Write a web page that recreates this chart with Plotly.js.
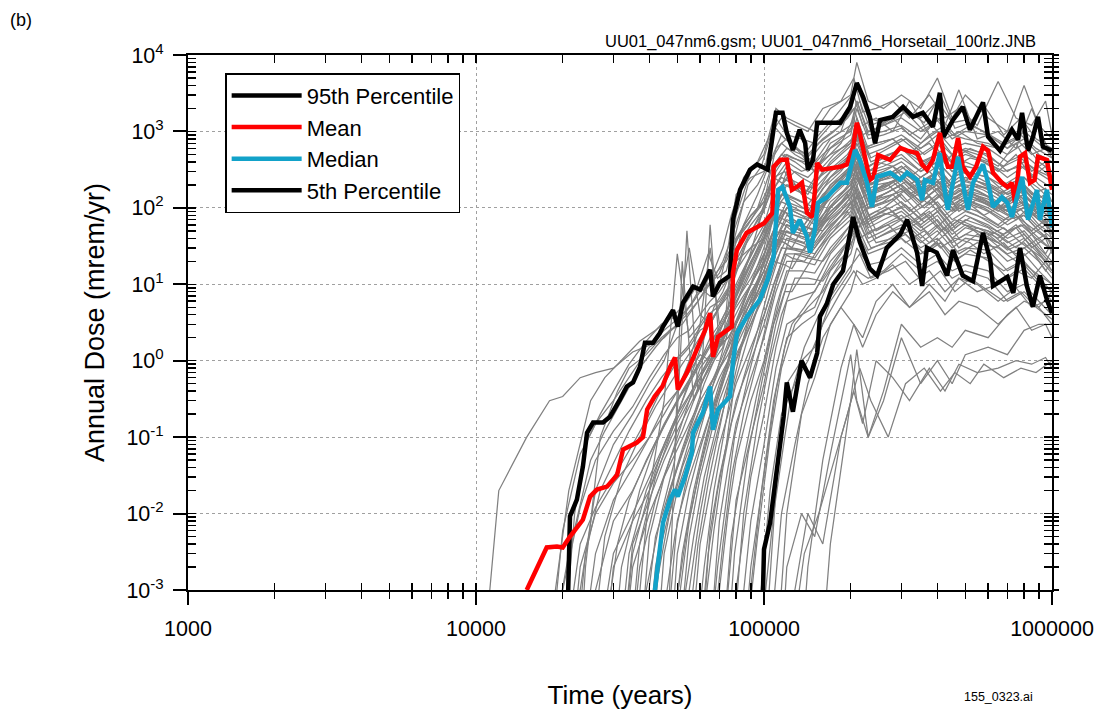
<!DOCTYPE html>
<html><head><meta charset="utf-8">
<script src="https://cdn.plot.ly/plotly-3.0.1.min.js"></script>
<style>html,body{margin:0;padding:0;background:#fff}#chart{width:1097px;height:715px}</style>
</head><body><div id="chart"></div>
<script>
// ---------- data ----------
const grayTime = [10000,12000,15000,18000,20000,23000,26000,30000,35000,40000,45000,50000,55000,60000,65000,70000,75000,80000,90000,100000,110000,120000,135000,150000,170000,200000,210000,230000,260000,300000,350000,400000,450000,500000,600000,700000,800000,900000,1000000];

const g01 = [1e-5,0.02,0.1,0.3,0.34,0.6,0.7,0.8,1.3,1.6,2.5,3.5,5,8,10,14,25,40,70,120,250,400,300,350,500,700,1500,600,700,900,600,900,500,600,500,300,400,300,250];
const g02 = [1e-5,1e-5,1e-5,1e-4,0.006,0.06,0.15,0.3,0.7,1.5,2,3,5,9,7,10,30,150,250,300,1500,900,800,700,1200,1800,4000,1500,1300,2000,1500,2500,1300,1400,900,600,1000,700,500];
const g03 = [1e-5,1e-5,1e-5,1e-5,0.001,0.012,0.05,0.12,0.25,0.6,1.2,2,2.5,4,3,5,8,40,80,120,600,800,500,300,700,1000,2500,900,1000,1200,800,1500,900,800,700,500,700,400,300];
const g04 = [1e-5,1e-5,1e-5,1e-5,1e-4,0.004,0.012,0.03,0.08,0.2,0.5,1,1.5,2.5,3,5,7,15,30,60,200,350,250,200,400,700,1200,500,600,800,500,700,400,500,400,250,350,200,150];
const g05 = [1e-5,1e-5,1e-5,1e-5,1e-5,0.002,0.01,0.025,0.05,0.1,0.25,0.4,0.7,1.2,1,2,3,8,20,40,150,250,200,180,300,500,900,350,450,600,400,500,300,350,300,200,250,150,100];
const g06 = [1e-5,1e-5,1e-5,1e-5,1e-5,1e-4,0.003,0.015,0.04,0.1,0.2,0.4,1,3,30,3,5,10,25,50,120,300,150,120,250,400,800,300,400,500,300,400,250,300,250,180,200,120,90];
const g07 = [1e-5,1e-5,1e-5,1e-5,1e-5,1e-5,0.001,0.008,0.02,0.06,0.15,0.3,0.5,0.9,1.5,2.5,4,6,12,25,60,120,100,90,200,300,600,250,300,400,250,350,200,250,200,150,180,100,70];
const g08 = [1e-5,1e-5,1e-5,1e-5,1e-5,1e-5,1e-4,0.003,0.01,0.03,0.08,0.2,0.35,0.6,1,1.8,3,5,10,20,50,100,80,70,150,250,400,200,250,300,200,300,180,200,180,120,150,90,60];
const g09 = [1e-5,1e-5,1e-5,1e-5,1e-5,1e-5,1e-5,0.002,0.008,0.02,0.06,0.15,0.3,0.8,1.2,1.6,2,3,7,15,40,80,60,50,120,200,350,150,200,250,150,200,120,150,120,90,100,70,50];
const g10 = [1e-5,1e-5,1e-5,1e-5,1e-5,1e-5,1e-5,1e-5,0.004,0.015,0.05,0.12,0.25,0.5,0.9,1.5,2.5,20,30,40,100,150,120,100,200,350,700,300,350,450,300,400,250,300,250,150,200,130,90];
const g11 = [1e-5,1e-5,1e-5,1e-5,1e-5,1e-5,1e-5,1e-5,0.002,0.01,0.03,0.07,0.15,0.3,0.5,0.8,1.2,2,5,10,30,60,50,45,90,150,300,100,150,200,120,180,100,130,100,70,80,50,35];
const g12 = [1e-5,1e-5,1e-5,1e-5,1e-5,1e-5,1e-5,1e-5,1e-4,0.02,0.3,25,2,3,5,6,9,20,50,90,300,500,400,300,600,900,2000,800,900,1100,700,1000,600,700,600,400,500,350,250];
const g13 = [1e-5,1e-5,1e-5,1e-5,1e-5,1e-5,1e-5,1e-5,1e-5,0.005,0.03,0.1,0.3,0.6,1,1.5,2.5,4,10,20,60,100,80,60,150,250,500,200,250,350,200,300,180,220,180,120,150,100,70];
const g14 = [1e-5,1e-5,1e-5,1e-5,1e-5,1e-5,1e-5,1e-5,1e-5,1e-4,0.01,0.04,0.12,0.3,60,1.5,2,3,8,15,40,70,60,50,100,180,350,150,180,250,150,220,130,160,130,90,110,70,50];
const g15 = [1e-5,1e-5,1e-5,1e-5,1e-5,1e-5,1e-5,1e-5,1e-5,1e-5,0.003,0.02,0.06,0.15,0.3,0.6,1,2,5,12,30,60,50,40,80,150,280,120,150,200,120,180,110,140,110,80,100,60,45];
const g16 = [1e-5,1e-5,1e-5,1e-5,1e-5,1e-5,1e-5,1e-5,1e-5,1e-5,1e-4,0.008,0.03,0.08,0.2,0.4,0.8,1.5,4,8,25,50,40,35,70,120,250,100,120,180,100,150,90,120,90,60,80,50,35];
const g17 = [1e-5,1e-5,1e-5,1e-5,1e-5,1e-5,1e-5,1e-5,1e-5,1e-5,1e-5,0.003,0.02,0.07,0.2,0.5,1,2.5,6,15,50,100,90,80,150,250,500,200,250,350,220,300,200,250,200,130,170,110,80];
const g18 = [1e-5,1e-5,1e-5,1e-5,1e-5,1e-5,1e-5,1e-5,1e-5,1e-5,1e-5,1e-4,0.005,0.03,0.1,0.3,0.6,1.2,3,7,20,40,35,30,60,100,200,80,100,150,80,120,70,90,70,50,60,40,28];
const g19 = [1e-5,1e-5,1e-5,1e-5,1e-5,1e-5,1e-5,1e-5,1e-5,1e-5,1e-5,1e-5,0.001,0.01,0.05,0.15,0.4,1,3,8,25,60,50,45,100,180,400,150,200,250,160,220,130,170,140,90,120,80,55];
const g20 = [1e-5,1e-5,1e-5,1e-5,1e-5,1e-5,1e-5,1e-5,1e-5,1e-5,1e-5,1e-5,1e-4,0.004,0.02,0.08,0.2,0.5,1.5,4,12,30,28,25,50,90,180,70,90,120,70,100,60,80,60,40,50,30,20];
const g21 = [1e-5,1e-5,1e-5,1e-5,1e-5,1e-5,1e-5,1e-5,1e-5,1e-5,1e-5,1e-5,1e-5,1e-4,0.006,0.03,0.1,0.3,1,3,10,25,25,22,45,80,150,60,80,100,60,90,50,70,55,35,45,28,18];
const g22 = [1e-5,1e-5,1e-5,1e-5,1e-5,1e-5,1e-5,1e-5,1e-5,1e-5,1e-5,1e-5,1e-5,1e-5,2e-4,0.008,0.04,0.15,0.6,2,8,20,20,18,40,70,140,55,70,90,55,80,45,60,50,30,40,25,15];
const g23 = [1e-5,1e-5,1e-5,1e-5,1e-5,1e-5,1e-5,1e-5,1e-5,1e-5,1e-5,1e-5,1e-5,1e-5,1e-5,0.001,0.01,0.05,0.3,1,5,15,15,14,30,60,120,45,60,80,50,70,40,55,45,28,35,22,14];
const g24 = [1e-5,1e-5,1e-5,1e-5,1e-5,1e-5,1e-5,1e-5,1e-5,1e-5,1e-5,1e-5,1e-5,1e-5,1e-5,1e-5,0.001,0.015,0.1,0.5,3,10,10,10,25,50,100,40,50,70,40,60,35,45,40,25,30,20,12];
const g25 = [1e-5,1e-5,1e-5,1e-5,1e-5,1e-5,1e-5,1e-5,1e-5,1e-5,1e-5,1e-5,1e-5,1e-5,1e-5,1e-5,1e-5,0.001,0.03,0.2,1.5,6,7,8,20,40,80,35,45,60,35,50,30,40,35,20,25,15,10];
const g26 = [1e-5,1e-5,1e-5,1e-5,1e-5,1e-5,1e-5,1e-5,1e-5,1e-5,1e-5,1e-5,1e-5,1e-5,1e-5,1e-5,1e-5,1e-4,0.008,0.08,0.8,3,4,5,15,30,60,28,35,50,30,40,25,30,28,15,20,12,8];
const g27 = [1e-5,1e-5,1e-5,1e-5,1e-5,1e-5,1e-5,1e-5,1e-5,1e-5,1e-5,1e-5,1e-5,1e-5,1e-5,1e-5,1e-5,1e-5,0.002,0.03,0.4,2,3,4,12,25,50,25,30,40,25,35,20,25,22,12,16,10,6];
const g28 = [1e-5,1e-5,1e-5,1e-5,1e-5,1e-5,1e-5,1e-5,1e-5,1e-5,1e-5,1e-5,1e-5,1e-5,1e-5,1e-5,1e-5,1e-5,1e-5,1e-4,0.02,0.5,1,1.5,6,15,30,18,20,30,18,25,15,18,15,8,10,6,4];
const g29 = [1e-5,1e-5,1e-5,1e-5,1e-5,1e-5,1e-5,1e-5,1e-5,1e-5,1e-5,1e-5,1e-5,1e-5,1e-5,1e-5,1e-5,1e-5,1e-5,1e-5,1e-4,0.01,0.2,0.6,3,8,15,12,15,25,15,20,12,15,12,6,8,5,3];
const g30 = [1e-5,1e-5,1e-5,1e-5,1e-5,1e-5,1e-5,1e-5,1e-5,1e-5,1e-5,1e-5,1e-5,1e-5,1e-5,1e-5,1e-5,1e-5,1e-5,1e-5,1e-5,0.002,0.01,0.005,0.06,1.2,0.3,0.1,0.3,2,0.5,1,0.5,1.2,1.5,1.2,2.5,3,3];
const g31 = [1e-5,1e-5,1e-5,1e-5,1e-5,1e-5,1e-5,1e-5,1e-5,1e-5,1e-5,1e-5,1e-5,1e-5,1e-5,1e-5,1e-5,1e-5,1e-5,1e-5,1e-5,1e-5,1e-5,1e-5,0.004,0.3,1.4,0.1,0.4,3,1.5,2,1.5,2.5,2,4,6,5,8];
const g32 = [1e-5,1e-5,1e-5,1e-5,1e-5,0.001,0.02,0.08,0.2,0.5,1,3,30,4,6,8,12,80,300,500,2000,1500,1200,1000,2000,3000,8000,2500,2000,3000,2000,5000,1500,3000,1500,1000,4000,1200,800];
const g33 = [1e-5,1e-5,1e-5,1e-5,1e-5,1e-5,1e-5,1e-5,0.003,0.02,0.08,0.2,0.5,1,2,3,5,30,60,100,400,600,500,400,800,1200,2500,1000,1200,1500,1000,1400,800,1000,900,600,800,500,400];
const g34 = [1e-5,1e-5,1e-5,1e-5,1e-5,1e-5,1e-5,1e-5,1e-5,1e-5,1e-5,0.0005,0.008,0.04,0.15,0.4,1,3,10,30,100,200,180,150,300,450,900,350,450,600,350,500,300,400,300,200,250,180,120];
const realizationsA = [g01,g02,g03,g04,g05,g06,g07,g08,g09,g10,g11,g12,g13,g14,g15,g16,g17,g18,g19,g20,g21,g22,g23,g24,g25,g26,g27,g28,g29,g30,g31,g32,g33,g34];

const grayTime2 = [12000,16000,21000,25000,28000,32000,37000,42000,47000,52000,57000,62000,67000,72000,77000,85000,95000,105000,115000,128000,142000,160000,185000,205000,220000,245000,280000,320000,375000,425000,475000,550000,650000,750000,850000,950000,1000000];
const h01 = [1e-5,1e-5,0.003,0.05,0.12,0.3,0.8,1.5,2.5,3,5,8,12,20,40,120,200,400,900,600,500,800,1200,2000,900,1100,1500,900,1300,800,1000,700,600,800,500,600,450];
const h02 = [1e-5,1e-5,1e-5,1e-4,0.005,0.03,0.1,0.25,0.5,0.9,1.5,2.5,4,6,10,30,60,150,250,200,150,300,500,700,300,400,350,250,400,200,300,250,180,250,150,180,120];
const h03 = [1e-5,1e-5,1e-5,1e-5,1e-5,0.002,0.02,0.08,0.2,0.4,0.7,1.2,2,3,5,15,35,80,150,120,90,180,300,500,200,250,300,180,250,150,200,170,120,160,100,120,80];
const h04 = [1e-5,1e-5,1e-5,1e-5,1e-5,1e-5,0.004,0.03,0.1,0.3,0.8,2,5,8,15,60,150,400,700,500,400,700,1000,3000,1200,1500,1000,2500,900,1200,3500,800,1000,600,2000,700,500];
const h05 = [1e-5,1e-5,1e-5,1e-5,1e-5,1e-5,1e-4,0.005,0.02,0.06,0.15,0.3,0.6,1,1.8,4,8,20,40,35,30,60,100,150,70,90,80,60,90,50,70,55,40,60,35,45,30];
const h06 = [1e-5,1e-5,1e-5,1e-5,1e-5,1e-5,1e-5,0.002,0.02,0.07,0.2,0.5,1,2,4,10,25,60,120,100,80,150,250,400,180,220,250,150,220,130,180,140,100,150,90,110,70];
const h07 = [1e-5,1e-5,1e-5,1e-5,1e-5,1e-5,1e-5,1e-5,0.001,20,0.3,0.8,1.5,3,5,12,30,70,150,130,110,200,350,600,250,300,350,200,300,180,250,200,150,200,120,150,100];
const h08 = [1e-5,1e-5,1e-5,1e-5,1e-5,1e-5,1e-5,1e-5,1e-4,0.003,0.02,0.08,0.25,0.6,1.2,3,8,20,50,45,40,80,150,250,100,130,150,90,140,80,110,90,60,90,50,70,45];
const h09 = [1e-5,1e-5,1e-5,1e-5,1e-5,1e-5,1e-5,1e-5,1e-5,0.0005,0.005,0.03,0.1,0.3,0.7,2,6,20,50,45,40,70,120,200,90,110,130,80,120,70,100,80,55,80,45,60,40];
const h10 = [1e-5,1e-5,1e-5,1e-5,1e-5,1e-5,1e-5,1e-5,1e-5,1e-5,1e-4,0.002,0.02,0.1,0.4,2,10,50,200,300,250,400,700,1500,600,700,800,500,900,400,600,500,350,700,300,400,250];
const h11 = [1e-5,1e-5,1e-5,1e-5,1e-5,1e-5,1e-5,1e-5,1e-5,1e-5,1e-5,5e-4,0.006,0.04,0.15,0.6,2.5,10,30,28,25,45,80,130,60,75,90,55,80,45,65,50,35,55,30,40,25];
const h12 = [1e-5,1e-5,1e-5,1e-5,1e-5,1e-5,1e-5,1e-5,1e-5,1e-5,1e-5,1e-5,3e-4,0.004,0.03,0.2,1,5,20,60,55,50,90,160,280,120,150,180,110,160,90,130,100,70,110,60,80];
const h13 = [1e-5,1e-5,1e-5,1e-5,1e-5,1e-5,1e-5,1e-5,1e-5,1e-5,1e-5,1e-5,1e-5,2e-4,0.005,0.05,0.4,2,8,25,22,20,40,70,120,50,65,80,45,70,40,55,45,30,45,25,35];
const h14 = [1e-5,1e-5,1e-5,1e-5,1e-5,1e-5,1e-5,1e-5,1e-5,1e-5,1e-5,1e-5,1e-5,1e-5,1e-4,0.01,0.15,1,4,12,12,11,25,50,90,40,50,60,35,55,30,45,35,25,35,20,28];
const h15 = [1e-5,1e-5,1e-5,1e-5,1e-5,1e-5,1e-5,1e-5,1e-5,1e-5,1e-5,1e-5,1e-5,1e-5,1e-5,1e-4,0.005,0.1,0.8,3,5,8,20,40,70,35,40,50,30,45,25,35,30,20,28,15,20];
const h16 = [1e-5,1e-5,1e-5,1e-5,1e-5,1e-5,1e-5,1e-5,1e-5,1e-5,1e-5,1e-5,1e-5,1e-5,1e-5,1e-5,3e-4,0.02,0.2,0.5,1,3,8,15,10,12,18,10,15,8,12,10,6,9,5,6,4];
const h17 = [1e-5,1e-5,1e-5,1e-5,1e-5,1e-5,1e-5,1e-5,1e-5,1e-5,1e-5,1e-5,1e-5,1e-5,1e-5,1e-5,1e-5,2e-4,0.01,0.08,0.5,2,5,3,2,6,10,5,8,4,6,5,3,5,2.5,3,2];
const h18 = [1e-5,1e-5,1e-5,1e-5,1e-5,1e-5,1e-5,1e-5,1e-5,1e-5,1e-5,1e-5,1e-5,1e-5,1e-5,1e-5,1e-5,1e-5,1e-5,0.001,0.01,0.004,0.1,0.4,0.15,1,0.6,0.3,0.8,0.4,0.9,0.7,0.8,1,0.9,1.1,0.8];
const h19 = [1e-5,1e-5,1e-5,1e-5,1e-5,1e-5,1e-5,1e-5,1e-5,1e-5,1e-5,1e-5,1e-5,1e-5,1e-5,1e-5,1e-5,1e-5,1e-5,1e-5,0.002,0.05,0.8,3,1.5,4,8,5,10,6,12,8,10,15,12,20,15];
const h20 = [1e-5,1e-5,0.02,0.3,0.6,1,1.8,2.5,3.5,4,6,10,15,30,80,250,400,900,1500,1200,1000,2000,2500,5000,1800,2000,2500,1500,3000,1500,2000,1200,4500,1500,1200,2500,900];
const h21 = [1e-5,1e-5,1e-5,1e-5,1e-5,1e-5,0.002,0.015,0.05,0.12,0.3,0.6,1,1.5,25,60,100,300,500,400,300,500,800,1200,600,700,800,500,700,400,600,450,300,500,250,350,200];
const h22 = [1e-5,1e-5,1e-5,1e-5,1e-5,1e-5,1e-5,0.001,0.01,0.04,0.1,0.25,0.5,1,2,6,15,40,90,80,70,130,220,350,160,200,220,140,200,120,170,130,90,140,80,100,60];
const realizationsB = [h01,h02,h03,h04,h05,h06,h07,h08,h09,h10,h11,h12,h13,h14,h15,h16,h17,h18,h19,h20,h21,h22];

const grayTime3 = [14000,19000,22000,24000,27000,31000,34000,39000,44000,49000,54000,59000,64000,69000,74000,79000,88000,98000,108000,118000,125000,138000,155000,175000,195000,215000,235000,270000,310000,360000,410000,460000,520000,580000,680000,780000,880000,1000000];
const k01 = [1e-5,1e-5,0.01,0.08,0.2,0.5,0.9,1.8,3,4,6,10,25,12,15,40,200,350,1200,800,700,500,900,1500,2500,4000,1200,1500,2000,1300,3000,1100,1300,2200,900,1500,800,600];
const k02 = [1e-5,1e-5,1e-4,0.003,0.02,0.06,0.12,0.3,0.6,1,1.5,2.5,4,5,8,12,40,90,250,300,200,150,300,500,700,1000,450,600,800,500,700,450,600,500,350,450,300,220];
const k03 = [1e-5,1e-5,1e-5,1e-5,1e-4,0.004,0.015,0.05,0.12,0.25,0.5,0.9,1.5,2.5,4,8,20,45,100,90,70,60,120,200,300,500,200,250,350,200,300,180,250,200,150,200,120,90];
const k04 = [1e-5,1e-5,1e-5,1e-5,1e-5,1e-4,0.003,0.02,0.06,0.15,0.3,0.6,1,1.8,3,6,15,35,80,70,60,50,100,170,250,400,170,200,280,170,240,150,200,170,120,160,100,75];
const k05 = [1e-5,1e-5,1e-5,1e-5,1e-5,1e-5,1e-5,0.001,0.01,0.05,50,0.4,0.8,1.5,2.5,5,12,30,70,60,50,45,90,150,220,350,150,180,250,150,220,130,180,150,100,140,90,65];
const k06 = [1e-5,1e-5,1e-5,1e-5,1e-5,1e-5,1e-5,1e-4,0.004,0.02,0.07,0.2,0.4,0.8,1.5,3,8,20,50,45,40,35,70,120,180,300,130,160,220,130,190,110,160,130,90,120,80,55];
const k07 = [1e-5,1e-5,1e-5,1e-5,1e-5,1e-5,1e-5,1e-5,3e-4,0.005,0.03,0.1,0.3,0.8,2,6,20,80,300,500,450,400,700,1000,1500,2500,1000,1300,1800,1000,1500,900,1200,1000,700,900,600,450];
const k08 = [1e-5,1e-5,1e-5,1e-5,1e-5,1e-5,1e-5,1e-5,1e-5,5e-4,0.006,0.03,0.1,0.3,0.7,2,6,15,40,35,30,28,55,90,140,250,100,120,170,100,150,90,120,100,70,95,60,40];
const k09 = [1e-5,1e-5,1e-5,1e-5,1e-5,1e-5,1e-5,1e-5,1e-5,1e-5,2e-4,0.004,0.025,0.1,0.35,1.5,5,15,40,35,30,60,110,180,300,130,160,200,120,170,100,140,110,80,110,70,50,35];
const k10 = [1e-5,1e-5,1e-5,1e-5,1e-5,1e-5,1e-5,1e-5,1e-5,1e-5,1e-5,1e-4,0.003,0.02,0.08,0.5,2,7,20,18,16,30,55,90,150,60,75,100,60,85,50,70,55,40,55,35,25,18];
const k11 = [1e-5,1e-5,1e-5,1e-5,1e-5,1e-5,1e-5,1e-5,1e-5,1e-5,1e-5,1e-5,1e-4,0.002,0.015,0.1,0.6,3,10,25,22,20,35,60,100,160,70,85,110,65,95,55,75,60,45,60,40,28];
const k12 = [1e-5,1e-5,1e-5,1e-5,1e-5,1e-5,1e-5,1e-5,1e-5,1e-5,1e-5,1e-5,1e-5,1e-5,1e-4,0.003,0.06,0.5,3,8,8,15,30,50,90,40,50,60,35,50,30,40,35,25,35,20,14,10];
const k13 = [1e-5,1e-5,1e-5,1e-5,1e-5,1e-5,1e-5,1e-5,1e-5,1e-5,1e-5,1e-5,1e-5,1e-5,1e-5,1e-5,5e-4,0.02,0.3,1.5,3,5,10,20,35,60,30,35,45,25,35,20,28,22,15,20,12,8];
const k14 = [1e-5,1e-5,1e-5,1e-5,1e-5,1e-5,1e-5,1e-5,1e-5,1e-5,1e-5,1e-5,1e-5,1e-5,1e-5,1e-5,1e-5,3e-4,0.01,0.1,0.4,1.5,4,8,15,25,12,15,20,10,15,8,12,9,6,8,5,3.5];
const k15 = [1e-5,1e-5,1e-5,1e-5,1e-5,1e-5,1e-5,1e-5,1e-5,1e-5,1e-5,1e-5,1e-5,1e-5,1e-5,1e-5,1e-5,1e-5,1e-5,1e-5,2e-4,0.003,0.01,0.05,0.2,0.8,0.3,0.1,0.5,0.8,0.4,0.7,0.5,0.9,0.6,0.8,0.7,1];
const k16 = [1e-5,1e-5,1e-5,0.002,0.1,0.4,0.8,1.2,2,2.8,4,6,10,15,20,35,60,120,250,200,180,150,250,350,500,900,400,500,600,400,550,350,450,400,300,350,250,180];
const realizationsC = [k01,k02,k03,k04,k05,k06,k07,k08,k09,k10,k11,k12,k13,k14,k15,k16];

const p95Time = [20900,21200,22400,23500,24300,25500,27600,29200,31600,33400,35100,37100,38600,41200,43500,44600,48300,50200,52300,56700,60000,65000,66500,70300,76200,78000,82600,89400,94600,103000,110000,116000,120000,126000,133000,139000,142000,148000,153000,165000,184000,199000,210000,221000,233000,243000,253000,280000,304000,329000,356000,386000,408000,420000,453000,490000,519000,576000,600000,660000,726000,762000,787000,826000,859000,894000,930000,1000000];
const p95Dose = [0.001,0.0092,0.0152,0.041,0.114,0.155,0.155,0.185,0.31,0.46,0.52,0.83,1.72,1.72,2.3,2.8,4.6,2.8,5.7,9.3,8.5,15.5,6.9,10.5,13,70,172,316,370,316,1750,1750,960,570,1050,700,316,425,1300,1300,1300,2090,4300,2820,1550,700,1410,1550,2090,1550,1750,1150,3200,850,1410,2090,1050,2400,850,560,1050,780,1750,560,850,1550,630,560];

const meanTime = [15000,16300,17600,19100,20000,21200,23500,24900,26300,28500,30900,32400,36200,38000,39300,41700,44400,47200,49100,50200,54000,62400,65000,66500,69200,77400,78000,80500,87000,100000,107000,108000,114000,120000,125000,130000,135500,141000,147000,150000,153000,159000,184000,194000,204000,210000,215000,224000,233000,240000,249000,274000,297000,314000,340000,354000,368000,386000,408000,420000,435000,450000,472000,490000,519000,545000,576000,600000,624000,670000,700000,726000,744000,774000,806000,839000,870000,894000,960000,1000000];
const meanDose = [0.001,0.002,0.0036,0.0037,0.0036,0.005,0.0083,0.0167,0.0206,0.0225,0.032,0.069,0.085,0.1,0.23,0.34,0.46,0.83,1.1,0.42,0.7,2.5,4.2,1.12,2.05,2.8,14,28,47,63,86,345,425,425,172,188,213,86,76,157,387,316,345,370,630,1300,960,465,232,254,490,425,610,560,520,370,316,425,960,520,345,345,820,345,255,345,630,560,288,213,187,213,116,465,520,213,232,465,425,172];

const medianTime = [41800,42900,44600,47200,49100,50200,53200,56200,56700,61400,65000,66500,69200,76200,78000,80600,87300,96800,103000,108000,110000,112000,116000,123000,126000,133000,141000,144500,150000,154000,165500,174000,184000,194000,207000,215000,228000,237000,247000,274000,297000,314000,340000,354000,362000,386000,408000,420000,435000,450000,472000,490000,511000,532000,576000,600000,624000,670000,700000,726000,756000,787000,826000,852000,887000,908000,960000,1000000];
const medianDose = [0.001,0.0025,0.0076,0.0152,0.0206,0.0167,0.0305,0.063,0.114,0.21,0.46,0.125,0.23,0.34,0.94,2.3,3.8,6.3,11.5,23,70,172,188,103,47,70,42,26,51,116,138,172,213,213,570,425,213,103,255,288,232,288,232,126,232,213,520,213,94,187,465,213,94,213,370,213,103,138,116,76,138,255,70,103,172,70,172,56];

const p05Time = [99200,100000,105000,110000,114000,117000,120000,126000,135000,144500,153000,156500,165000,174000,188000,194000,204000,215000,233000,247000,267000,297000,314000,340000,354000,368000,398000,432000,453000,490000,532000,576000,610000,624000,700000,734000,774000,818000,858000,908000,960000,1000000];
const p05Dose = [0.001,0.0034,0.0076,0.0305,0.1,0.185,0.52,0.215,1.0,0.6,1.26,3.8,5.5,10,15,30,76,36,16,13,30,45,70,26,9.5,30,26,13,28,13,11,47,21,9.5,12.5,7.7,30,9.5,5.1,13,6.3,4.2];

const xTickVals = [1000,10000,100000,1000000];
const xTickText = ['1000','10000','100000','1000000'];
const yTickVals = [0.001,0.01,0.1,1,10,100,1000,10000];
const yTickText = ['10<sup>-3</sup>','10<sup>-2</sup>','10<sup>-1</sup>','10<sup>0</sup>','10<sup>1</sup>','10<sup>2</sup>','10<sup>3</sup>','10<sup>4</sup>'];
const seriesNames = ['95th Percentile','Mean','Median','5th Percentile'];

// ---------- tick positions (axis decoration only) ----------
function decadeTicks(lo, hi){const out=[];for(let e=lo;e<hi;e++){for(let m=1;m<10;m++){out.push(m*Math.pow(10,e));}}out.push(Math.pow(10,hi));return out;}
const xAll = decadeTicks(3,6);
const yAll = decadeTicks(-3,4);

const FONT = 'Liberation Sans, Arial, Helvetica, sans-serif';
const GRAY = {color:'#808080', width:1.25};
const traces = [];
realizationsA.forEach(r => traces.push({x:grayTime,y:r,type:'scatter',mode:'lines',line:GRAY,showlegend:false,hoverinfo:'skip'}));
realizationsB.forEach(r => traces.push({x:grayTime2,y:r,type:'scatter',mode:'lines',line:GRAY,showlegend:false,hoverinfo:'skip'}));
realizationsC.forEach(r => traces.push({x:grayTime3,y:r,type:'scatter',mode:'lines',line:GRAY,showlegend:false,hoverinfo:'skip'}));
traces.push({x:p95Time,y:p95Dose,type:'scatter',mode:'lines',name:seriesNames[0],line:{color:'#000000',width:4.5},legendrank:1});
traces.push({x:p05Time,y:p05Dose,type:'scatter',mode:'lines',name:seriesNames[3],line:{color:'#000000',width:4.5},legendrank:4});
traces.push({x:meanTime,y:meanDose,type:'scatter',mode:'lines',name:seriesNames[1],line:{color:'#ff0000',width:4.5},legendrank:2});
traces.push({x:medianTime,y:medianDose,type:'scatter',mode:'lines',name:seriesNames[2],line:{color:'#12a2c9',width:4.5},legendrank:3});
// empty helper traces so that the tick-only overlay axes get drawn
[['x2','y'],['x3','y'],['x4','y'],['x','y2'],['x','y3'],['x','y4']].forEach(p => traces.push({x:[null],y:[null],xaxis:p[0],yaxis:p[1],type:'scatter',mode:'lines',showlegend:false,hoverinfo:'skip'}));

const tickOnlyX = (side, dir, len) => ({type:'log',range:[3,6],overlaying:'x',anchor:'y',side:side,tickmode:'array',tickvals:xAll,ticks:dir,ticklen:len,tickwidth:1.5,tickcolor:'#000',showticklabels:false,showgrid:false,showline:false,zeroline:false});
const tickOnlyY = (side, dir, len) => ({type:'log',range:[-3,4],overlaying:'y',anchor:'x',side:side,tickmode:'array',tickvals:yAll,ticks:dir,ticklen:len,tickwidth:1.5,tickcolor:'#000',showticklabels:false,showgrid:false,showline:false,zeroline:false});

const layout = {
  width:1097, height:715,
  margin:{l:188, r:45, t:55, b:125, pad:0},
  paper_bgcolor:'#ffffff', plot_bgcolor:'#ffffff',
  font:{family:FONT, color:'#000', size:20},
  showlegend:true,
  legend:{x:0.043, y:0.966, xanchor:'left', yanchor:'top', bgcolor:'#ffffff', bordercolor:'#000', borderwidth:1.5, font:{size:22, family:FONT}, tracegroupgap:0, itemwidth:70},
  xaxis:{type:'log', range:[3,6], tickmode:'array', tickvals:xTickVals, ticktext:xTickText, ticks:'outside', ticklen:13, tickwidth:2, tickcolor:'#000',
         showline:true, linewidth:2, linecolor:'#000', mirror:true, showgrid:true, gridcolor:'#a0a0a0', griddash:'dot', gridwidth:1, zeroline:false,
         tickfont:{size:21.5}, ticklabelstandoff:5, title:{text:'Time (years)', font:{size:26}, standoff:46}},
  yaxis:{type:'log', range:[-3,4], tickmode:'array', tickvals:yTickVals, ticktext:yTickText, ticks:'outside', ticklen:13, tickwidth:2, tickcolor:'#000',
         showline:true, linewidth:2, linecolor:'#000', mirror:true, showgrid:true, gridcolor:'#a0a0a0', griddash:'dot', gridwidth:1, zeroline:false,
         tickfont:{size:21.5}, ticklabelstandoff:5, title:{text:'Annual Dose (mrem/yr)', font:{size:27}, standoff:14}},
  xaxis2: tickOnlyX('bottom','inside',7),
  xaxis3: tickOnlyX('bottom','outside',8),
  xaxis4: tickOnlyX('top','inside',8),
  yaxis2: tickOnlyY('left','inside',8),
  yaxis3: tickOnlyY('right','inside',8),
  yaxis4: tickOnlyY('right','outside',6),
  annotations:[
    {text:'(b)', xref:'paper', yref:'paper', x:-0.193, y:1.065, xanchor:'center', yanchor:'middle', showarrow:false, font:{size:18}},
    {text:'UU01_047nm6.gsm; UU01_047nm6_Horsetail_100rlz.JNB', xref:'paper', yref:'paper', x:0.984, y:1.026, xanchor:'right', yanchor:'middle', showarrow:false, font:{size:16.5}},
    {text:'155_0323.ai', xref:'paper', yref:'paper', x:0.9375, y:-0.2, xanchor:'center', yanchor:'middle', showarrow:false, font:{size:12.5}}
  ]
};
Plotly.newPlot('chart', traces, layout, {displayModeBar:false, staticPlot:true});
</script></body></html>
